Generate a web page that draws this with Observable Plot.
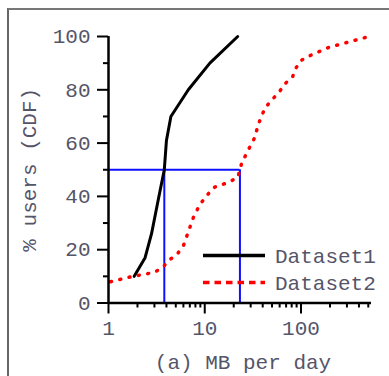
<!DOCTYPE html>
<html><head><meta charset="utf-8">
<script src="https://cdn.jsdelivr.net/npm/d3@7"></script>
<script src="https://cdn.jsdelivr.net/npm/@observablehq/plot@0.6"></script>
<style>
body{margin:0;background:#fff;}
#wrap{position:relative;width:389px;height:376px;overflow:hidden;background:#fff;}
#frame{position:absolute;left:7px;top:8px;width:420px;height:420px;border-left:2px solid #666;border-top:2px solid #777;}
#chart{position:absolute;left:0;top:0;}
</style></head><body><div id="wrap"><div id="frame"></div><div id="chart"></div></div>
<script>
// Dataset1 (black solid)
const ds1X = [1.85, 2.4, 2.8, 3.3, 3.8, 4.0, 4.45, 6.75, 11.3, 22];
const ds1Y = [10, 17, 26, 39, 50, 61, 70, 80, 90, 100];
// Dataset2 (red dotted)
const ds2X = [1.05, 1.8, 3.0, 3.7, 4.2, 5.1, 6.0, 7.6, 8.9, 10.9, 12.7, 16.8, 22, 24, 27, 33, 36, 42, 49, 59, 67, 82, 88, 100, 127, 197, 318, 510];
const ds2Y = [8, 10, 11.5, 13.5, 16, 18, 21.5, 32, 37, 41, 43.5, 45, 47, 52, 56, 62, 67, 73, 76, 79, 82, 85, 88, 91, 93, 96, 98, 100];
// medians (blue guide lines)
const medianLevel = 50;
const medianX = [3.8, 23.2];
// ticks
const xMajor = [1, 10, 100];
const xMinor = [2,3,4,5,6,7,8,9,20,30,40,50,60,70,80,90,200,300,400,500];
const yMajor = [0, 20, 40, 60, 80, 100];
const yMinor = [10, 30, 50, 70, 90];
const seriesNames = ["Dataset1", "Dataset2"];
const yLabel = "% users (CDF)";
const xLabel = "(a) MB per day";

const ds1 = ds1X.map((x, i) => ({x, y: ds1Y[i]}));
const ds2 = ds2X.map((x, i) => ({x, y: ds2Y[i]}));

const textColor = "#55556a";
const plot = Plot.plot({
  width: 389, height: 376,
  marginLeft: 108, marginRight: 18, marginTop: 36, marginBottom: 73.5,
  style: {fontFamily: "'Liberation Mono', 'DejaVu Sans Mono', monospace", fontSize: "21px", background: "transparent", color: textColor},
  x: {type: "log", domain: [1, 540]},
  y: {domain: [0, 100]},
  marks: [
    Plot.ruleY([medianLevel], {x1: xMajor[0], x2: medianX[1], stroke: "#1010ff", strokeWidth: 2}),
    Plot.ruleX(medianX, {y1: 0, y2: medianLevel, stroke: "#1010ff", strokeWidth: 2}),
    Plot.line(ds1, {x: "x", y: "y", stroke: "black", strokeWidth: 3}),
    Plot.line(ds2, {x: "x", y: "y", stroke: "#ff0000", strokeWidth: 3.5, strokeDasharray: "1,8.5", strokeLinecap: "round"}),
    Plot.ruleY([0], {stroke: "black", strokeWidth: 2.5}),
    Plot.ruleX([xMajor[0]], {stroke: "black", strokeWidth: 2.5}),
    Plot.axisY({ticks: yMajor, tickSize: 11, tickPadding: 7, tickFormat: d => d, label: null, stroke: "black", strokeWidth: 2, fill: textColor}),
    Plot.axisY({ticks: yMinor, tickSize: 5, tickFormat: () => "", label: null, stroke: "black", strokeWidth: 2}),
    Plot.axisX({ticks: xMajor, tickSize: 11, tickPadding: 6, tickFormat: d => d, label: null, stroke: "black", strokeWidth: 2, fill: textColor}),
    Plot.axisX({ticks: xMinor, tickSize: 5, tickFormat: () => "", label: null, stroke: "black", strokeWidth: 2}),
    Plot.text([yLabel], {frameAnchor: "left", dx: -79, rotate: -90, textAnchor: "middle", fill: textColor}),
    Plot.text([xLabel], {frameAnchor: "bottom", dx: 3, dy: 66, textAnchor: "middle", fill: textColor})
  ]
});
document.getElementById("chart").appendChild(plot);

// legend
const svg = d3.select(plot);
const lg = svg.append("g");
const legendStyles = [
  {stroke: "black", width: 3.5, dash: null},
  {stroke: "#ff0000", width: 3.5, dash: "6.5,5"}
];
const lx0 = 203, lx1 = 265, ly0 = 255.5, lstep = 27, tx = 275;
seriesNames.forEach((name, i) => {
  const y = ly0 + i * lstep;
  const s = legendStyles[i];
  const ln = lg.append("line").attr("x1", lx0).attr("x2", lx1).attr("y1", y).attr("y2", y)
    .attr("stroke", s.stroke).attr("stroke-width", s.width);
  if (s.dash) ln.attr("stroke-dasharray", s.dash);
  lg.append("text").attr("x", tx).attr("y", y).attr("dy", "0.35em")
    .attr("text-anchor", "start")
    .attr("fill", textColor).attr("font-size", "21px").text(name);
});
</script>
</body></html>
